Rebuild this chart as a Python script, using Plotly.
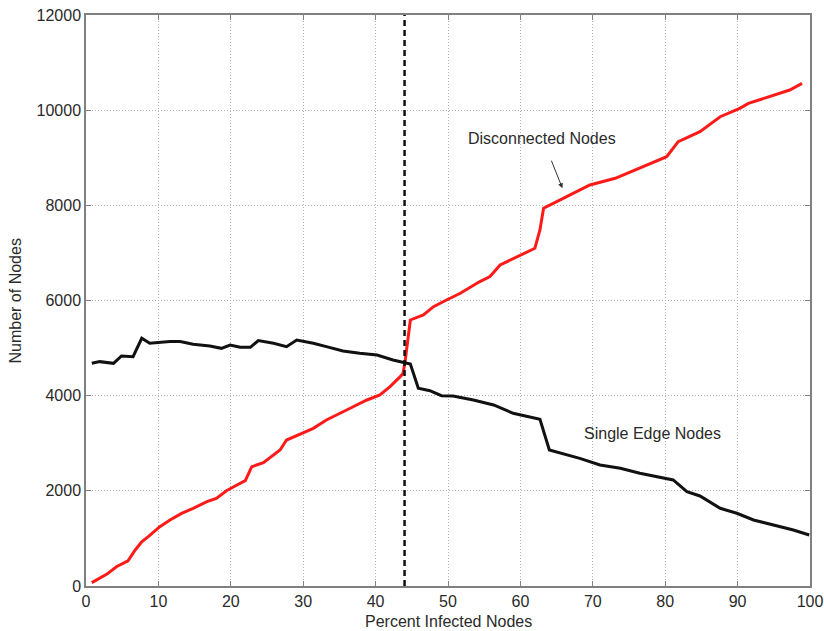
import plotly.graph_objects as go

# Disconnected nodes (red)
disc_x = [0.8, 1.9, 2.9, 4.2, 5.8, 6.8, 7.7, 8.6, 10.2, 11.6, 13.2, 14.8, 16.7, 18.0, 19.4, 20.6,
          22.0, 22.9, 24.5, 26.8, 27.7, 31.4, 33.2, 36.0, 38.8, 40.6, 42.0, 43.4, 43.8, 44.1, 44.8,
          46.6, 48.0, 49.8, 51.7, 54.4, 55.8, 57.2, 59.5, 62.0, 62.7, 63.2, 65.5, 69.6, 73.1, 76.5,
          80.2, 81.8, 84.8, 87.6, 90.3, 91.5, 94.9, 97.2, 98.9]
disc_y = [70, 160, 250, 405, 530, 757, 930, 1037, 1247, 1387, 1527, 1632, 1772, 1842, 2003, 2102,
          2213, 2507, 2592, 2858, 3068, 3314, 3489, 3699, 3909, 4014, 4189, 4399, 4469, 4750, 5591,
          5696, 5871, 6011, 6152, 6398, 6503, 6747, 6922, 7098, 7482, 7938, 8113, 8428, 8568, 8778,
          9023, 9338, 9548, 9863, 10038, 10143, 10318, 10423, 10563]

# Single edge nodes (black)
single_x = [0.8, 1.9, 3.8, 4.9, 6.5, 7.7, 8.8, 11.6, 13.0, 14.8, 17.1, 18.7, 19.9, 21.3, 22.7,
            23.8, 25.9, 27.7, 29.1, 31.4, 33.2, 35.5, 37.8, 40.2, 42.4, 43.8, 44.8, 45.9, 47.5,
            49.1, 50.7, 53.5, 56.3, 59.0, 62.7, 64.0, 66.4, 68.2, 71.0, 73.8, 76.5, 79.3, 81.1,
            83.0, 84.8, 87.6, 89.9, 92.2, 94.9, 97.7, 99.9]
single_y = [4680, 4715, 4680, 4834, 4820, 5206, 5101, 5136, 5136, 5080, 5044, 4995, 5065, 5016, 5016,
            5157, 5101, 5030, 5170, 5101, 5030, 4939, 4890, 4855, 4750, 4693, 4666, 4155, 4105,
            4000, 3993, 3909, 3804, 3629, 3503, 2858, 2753, 2683, 2543, 2473, 2368, 2276, 2228,
            1982, 1892, 1633, 1528, 1387, 1282, 1177, 1072]

threshold_x = 44
x_ticks = list(range(0, 101, 10))
y_ticks = list(range(0, 12001, 2000))
x_tick_labels = [str(v) for v in x_ticks]
y_tick_labels = [str(v) for v in y_ticks]

FONT = "Liberation Sans, Arial"
TXT = "#2a2a2a"

fig = go.Figure()
fig.add_trace(go.Scatter(x=disc_x, y=disc_y, mode="lines",
                         line=dict(color="#ff1a1a", width=3), showlegend=False))
fig.add_trace(go.Scatter(x=single_x, y=single_y, mode="lines",
                         line=dict(color="#111111", width=3), showlegend=False))
fig.add_trace(go.Scatter(x=[threshold_x, threshold_x], y=[0, 12000], mode="lines",
                         line=dict(color="#111111", width=2.5, dash="6px,4px"), showlegend=False))

fig.add_annotation(x=63.0, y=9395, text="Disconnected Nodes", showarrow=False,
                   font=dict(family=FONT, size=16, color=TXT))
fig.add_annotation(x=65.8, y=8360, ax=64.2, ay=8970, xref="x", yref="y", axref="x", ayref="y",
                   text="", showarrow=True, arrowhead=2, arrowsize=1, arrowwidth=1,
                   arrowcolor="#333333")
fig.add_annotation(x=78.3, y=3195, text="Single Edge Nodes", showarrow=False,
                   font=dict(family=FONT, size=16, color=TXT))

# Axis titles
fig.add_annotation(x=0.5, y=-0.0613, xref="paper", yref="paper", text="Percent Infected Nodes",
                   showarrow=False, xanchor="center", yanchor="middle",
                   font=dict(family=FONT, size=16, color=TXT))
fig.add_annotation(x=-0.0967, y=0.5, xref="paper", yref="paper", text="Number of Nodes",
                   showarrow=False, xanchor="center", yanchor="middle", textangle=-90,
                   font=dict(family=FONT, size=16, color=TXT))

axis_common = dict(
    showline=True, linecolor="#808080", linewidth=1.5, mirror="ticks",
    ticks="inside", ticklen=5, tickcolor="#808080",
    showgrid=True, gridcolor="#b0b0b0", griddash="1px,2px", gridwidth=1,
    zeroline=False, automargin=False,
    tickfont=dict(family=FONT, size=16, color=TXT),
)

fig.update_xaxes(range=[0, 100], tickvals=x_ticks, ticktext=x_tick_labels, **axis_common)
fig.update_yaxes(range=[0, 12000], tickvals=y_ticks, ticktext=y_tick_labels, **axis_common)

fig.update_layout(
    width=824, height=631,
    margin=dict(l=86, r=14, t=15, b=45),
    plot_bgcolor="white", paper_bgcolor="white",
    font=dict(family=FONT),
)

fig.write_html("out.html", config={"displayModeBar": False},
               post_script="document.body.style.margin='0';document.body.style.overflow='hidden';")
